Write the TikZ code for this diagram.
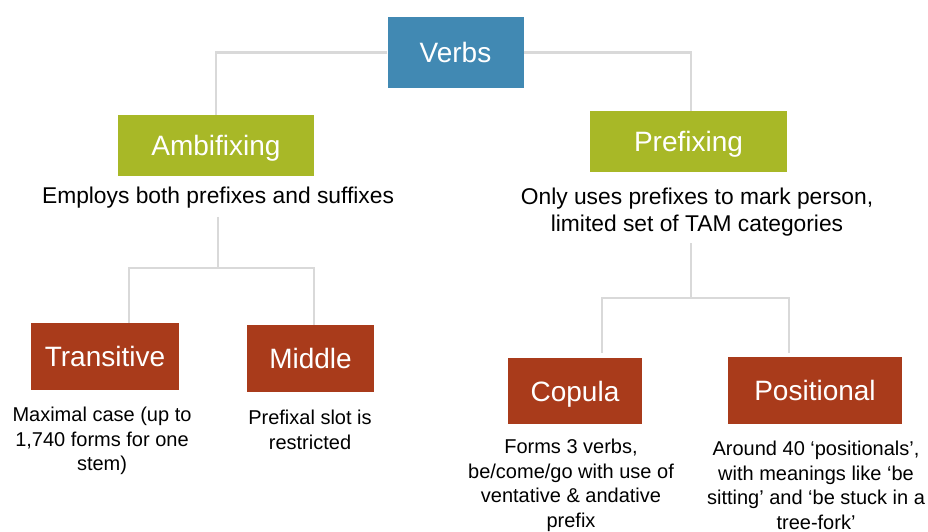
\documentclass[tikz,border=0pt]{standalone}
\usepackage{fontspec}
\setmainfont{Liberation Sans}
\usetikzlibrary{calc}
\definecolor{vblue}{RGB}{65,137,179}
\definecolor{vgreen}{RGB}{168,184,39}
\definecolor{vred}{RGB}{169,59,27}
\definecolor{vgray}{RGB}{217,217,217}
\tikzset{
  boxbase/.style={inner sep=0pt, text=white, font=\fontsize{28}{32}\selectfont, text height=20pt, text depth=0pt},
  bluebox/.style={boxbase, fill=vblue},
  greenbox/.style={boxbase, fill=vgreen},
  redbox/.style={boxbase, fill=vred},
  topdesc/.style={inner sep=0pt, align=center, font=\fontsize{22.8}{27}\selectfont},
  lowdesc/.style={inner sep=0pt, align=center, font=\fontsize{20}{24.5}\selectfont},
  conn/.style={draw=vgray, line width=2.3pt}
}
\begin{document}
\begin{tikzpicture}[x=1pt,y=-1pt]
\useasboundingbox (0,0) rectangle (928,532);
% boxes
\node[bluebox, minimum width=136pt, minimum height=71pt] (verbs) at (455.5,52.5) {Verbs};
\node[greenbox, minimum width=196pt, minimum height=61pt] (amb) at (216,145.5) {Ambifixing};
\node[greenbox, minimum width=197pt, minimum height=61pt] (pre) at (688.5,141.5) {Prefixing};
\node[redbox, minimum width=148pt, minimum height=67pt] (trans) at (105,356.5) {Transitive};
\node[redbox, minimum width=127pt, minimum height=67pt] (mid) at (310.5,358.5) {Middle};
\node[redbox, minimum width=134pt, minimum height=66pt] (cop) at (575,391) {Copula};
\node[redbox, minimum width=174pt, minimum height=67pt] (pos) at (815,390.5) {Positional};
% descriptions
\node[topdesc] (ambdesc) at (218,198) {Employs both prefixes and suffixes};
\node[topdesc] (predesc) at (697,212) {Only uses prefixes to mark person,\\limited set of TAM categories};
\node[lowdesc] (transdesc) at (102,441) {Maximal case (up to\\1,740 forms for one\\stem)};
\node[lowdesc] (middesc) at (310,430) {Prefixal slot is\\restricted};
\node[lowdesc] (copdesc) at (571,485.5) {Forms 3 verbs,\\be/come/go with use of\\ventative \& andative\\prefix};
\node[lowdesc] (posdesc) at (816,485.5) {Around 40 ‘positionals’,\\with meanings like ‘be\\sitting’ and ‘be stuck in a\\tree-fork’};
% junctions
\coordinate (j1) at (218,268);
\coordinate (j2) at (691,298);
% connectors
\draw[conn] (verbs.west) -| (amb.north);
\draw[conn] (verbs.east) -| ([xshift=2.5pt]pre.north);
\draw[conn] ($(ambdesc.south -| j1)+(0,8)$) -- (j1);
\draw[conn] ([xshift=24pt]trans.north) |- (j1) -| ([xshift=3.5pt]mid.north);
\draw[conn] ($(predesc.south -| j2)+(0,7)$) -- (j2);
\draw[conn] ([xshift=27pt,yshift=5pt]cop.north) |- (j2) -| ([xshift=-26pt,yshift=4pt]pos.north);
\end{tikzpicture}
\end{document}
